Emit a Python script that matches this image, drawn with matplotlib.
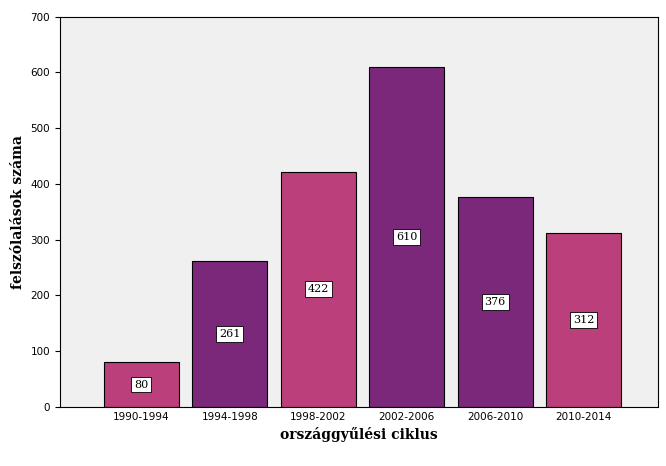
import matplotlib
matplotlib.use("Agg")
import matplotlib.pyplot as plt

categories = ["1990-1994", "1994-1998", "1998-2002", "2002-2006", "2006-2010", "2010-2014"]
values = [80, 261, 422, 610, 376, 312]
colors = ["#BB3F7A", "#7B287A", "#BB3F7A", "#7B287A", "#7B287A", "#BB3F7A"]

fig = plt.figure(figsize=(6.66, 4.66), dpi=100)
ax = fig.add_axes([0.09, 0.127, 0.898, 0.837])
ax.set_facecolor("#F0F0F0")
x = range(len(categories))
ax.bar(x, values, width=0.85, color=colors, edgecolor="black", linewidth=0.8, zorder=2)
for xi, v in zip(x, values):
    ax.text(xi, v / 2, str(v), ha="center", va="center", fontsize=8, family="DejaVu Serif",
            bbox=dict(facecolor="white", edgecolor="black", linewidth=0.6, pad=2), zorder=3)
ax.set_xlim(-0.92, 5.84)
ax.set_ylim(0, 700)
ax.set_yticks(range(0, 701, 100))
ax.set_xticks(list(x))
ax.set_xticklabels(categories, fontsize=7.5)
ax.tick_params(axis="y", labelsize=7.5)
ax.tick_params(axis="x", length=0)
ax.set_xlabel("országgyűlési ciklus", family="DejaVu Serif", fontweight="bold", fontsize=10)
ax.set_ylabel("felszólalások száma", family="DejaVu Serif", fontweight="bold", fontsize=10)
fig.savefig("out.png", dpi=100)
